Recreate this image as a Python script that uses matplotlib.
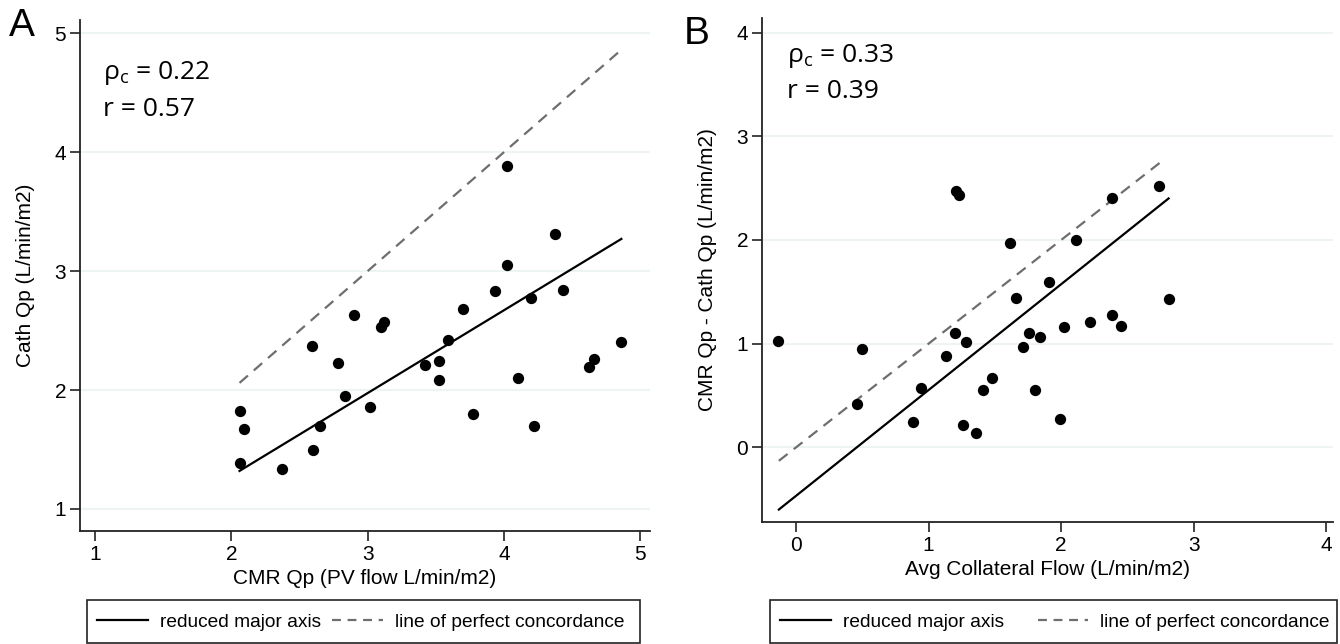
import matplotlib.pyplot as plt
from matplotlib.patches import Rectangle

# Panel A: CMR Qp vs Cath Qp
cmr_qp = [2.06, 2.09, 2.06, 2.37, 2.59, 2.60, 2.65, 2.78, 2.83, 2.90,
          3.02, 3.10, 3.12, 3.42, 3.52, 3.52, 3.59, 3.70, 3.77, 3.93,
          4.02, 4.02, 4.10, 4.20, 4.22, 4.37, 4.43, 4.62, 4.66, 4.86]
cath_qp = [1.82, 1.67, 1.385, 1.34, 2.37, 1.50, 1.70, 2.23, 1.95, 2.63,
           1.86, 2.53, 2.57, 2.21, 2.24, 2.08, 2.42, 2.68, 1.80, 2.83,
           3.88, 3.05, 2.10, 2.77, 1.70, 3.31, 2.84, 2.19, 2.26, 2.40]
rma_a_ends = [1.32, 3.27]

# Panel B: collateral flow vs CMR-Cath difference
coll_flow = [-0.137, 0.46, 0.50, 0.88, 0.945, 1.13, 1.20, 1.21, 1.23, 1.28,
             1.26, 1.355, 1.41, 1.48, 1.61, 1.66, 1.715, 1.76, 1.80, 1.84,
             1.91, 1.99, 2.02, 2.11, 2.22, 2.38, 2.38, 2.45, 2.74, 2.81]
qp_diff = [1.03, 0.42, 0.95, 0.24, 0.57, 0.88, 1.10, 2.47, 2.43, 1.02,
           0.22, 0.14, 0.55, 0.67, 1.97, 1.44, 0.97, 1.10, 0.55, 1.06,
           1.59, 0.27, 1.16, 2.00, 1.21, 2.40, 1.28, 1.17, 2.52, 1.43]
rma_b_ends = [-0.60, 2.40]
conc_b_x = [-0.13, 2.78]

legend_labels = ['reduced major axis', 'line of perfect concordance']

W, H = 1340, 644
fig = plt.figure(figsize=(W / 100, H / 100), dpi=100)

regular = ['Liberation Sans', 'DejaVu Sans']
plt.rcParams['mathtext.fontset'] = 'custom'
plt.rcParams['mathtext.rm'] = 'Open Sans'


def px_axes(l, r, t, b):
    return fig.add_axes([l / W, 1 - b / H, (r - l) / W, (b - t) / H])


def style(ax, yticks, xticks):
    for s in ['top', 'right']:
        ax.spines[s].set_visible(False)
    for s in ['left', 'bottom']:
        ax.spines[s].set_linewidth(1.3)
        ax.spines[s].set_color('#222222')
    ax.set_yticks(yticks)
    ax.set_xticks(xticks)
    ax.tick_params(length=7, width=1.2, color='#222222', labelsize=15, pad=3)
    for lab in ax.get_xticklabels() + ax.get_yticklabels():
        lab.set_family(regular)
    for y in yticks:
        ax.axhline(y, color='#eef4f4', lw=1.5, zorder=0)


dash = (0, (5, 3.5))

# ---- A
ax = px_axes(80, 650, 20, 531)
ax.set_xlim(0.89, 5.07)
ax.set_ylim(0.815, 5.11)
style(ax, [1, 2, 3, 4, 5], [1, 2, 3, 4, 5])
xa = [min(cmr_qp), max(cmr_qp)]
ax.plot(xa, xa, color='#6e6e6e', lw=1.6, linestyle=dash)
ax.plot(xa, rma_a_ends, color='black', lw=1.6)
ax.scatter(cmr_qp, cath_qp, s=66, color='black', zorder=3, linewidths=0)
ax.set_ylabel('Cath Qp (L/min/m2)', fontsize=15, family=regular, labelpad=14)
ax.set_xlabel('CMR Qp (PV flow L/min/m2)', fontsize=15, family=regular, labelpad=4)

# ---- B
bx = px_axes(762, 1333, 18, 522)
bx.set_xlim(-0.257, 4.05)
bx.set_ylim(-0.72, 4.14)
style(bx, [0, 1, 2, 3, 4], [0, 1, 2, 3, 4])
bx.plot(conc_b_x, conc_b_x, color='#6e6e6e', lw=1.6, linestyle=dash)
xb = [-0.13, max(coll_flow)]
bx.plot(xb, rma_b_ends, color='black', lw=1.6)
bx.scatter(coll_flow, qp_diff, s=66, color='black', zorder=3, linewidths=0)
bx.set_ylabel('CMR Qp - Cath Qp (L/min/m2)', fontsize=15, family=regular, labelpad=14)
bx.set_xlabel('Avg Collateral Flow (L/min/m2)', fontsize=15, family=regular, labelpad=4)

# annotations
txt = dict(fontsize=19, family='Open Sans', va='center')
fig.text(103 / W, 1 - 73 / H, r'ρ$_\mathrm{c}$ = 0.22', **txt)
fig.text(103 / W, 1 - 109 / H, 'r = 0.57', **txt)
fig.text(787 / W, 1 - 56 / H, r'ρ$_\mathrm{c}$ = 0.33', **txt)
fig.text(787 / W, 1 - 92 / H, 'r = 0.39', **txt)
fig.text(9 / W, 1 - 26 / H, 'A', fontsize=28, family=regular, va='center')
fig.text(684 / W, 1 - 34 / H, 'B', fontsize=28, family=regular, va='center')

# legends: frameless legend inside a drawn box
for l, r, colsp, fs in [(87, 640, 0.58, 13.8), (770, 1337, 1.75, 13.8)]:
    fig.add_artist(Rectangle((l / W, 1 / H), (r - l) / W, 43 / H,
                             transform=fig.transFigure, fill=False,
                             edgecolor='#222222', lw=1.2))
    h1, = ax.plot([], [], color='black', lw=1.6)
    h2, = ax.plot([], [], color='#6e6e6e', lw=1.6, linestyle=(0, (4, 3)))
    fig.legend([h1, h2], legend_labels, ncol=2, loc='center left',
               bbox_to_anchor=((l + 10) / W, 22 / H),
               prop={'family': regular, 'size': fs}, frameon=False,
               handlelength=2.65, handletextpad=0.63, columnspacing=colsp,
               borderaxespad=0, borderpad=0)

fig.savefig('out.png', dpi=100)
